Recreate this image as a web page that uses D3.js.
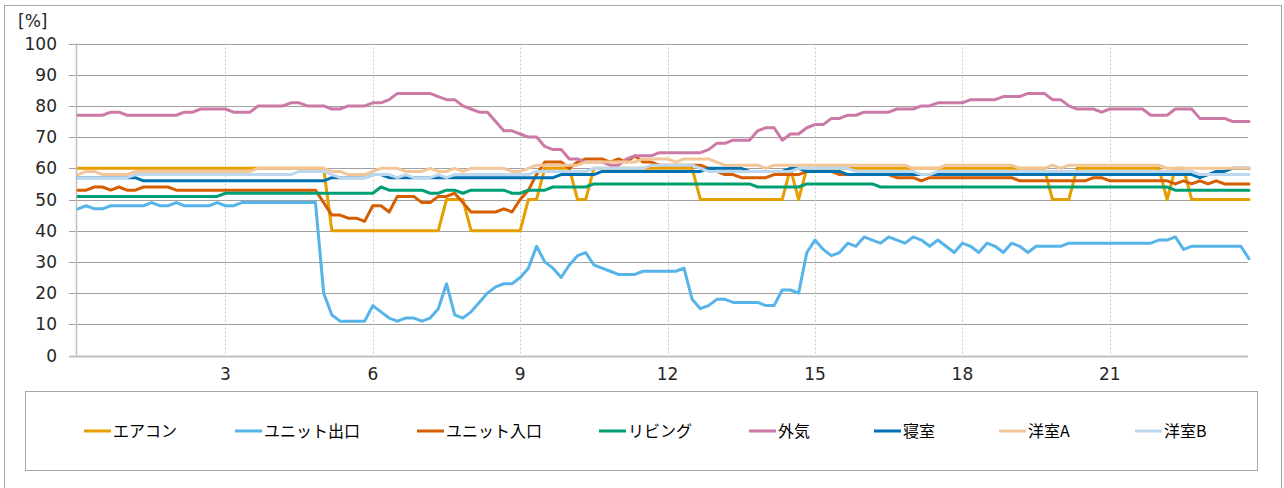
<!DOCTYPE html>
<html>
<head>
<meta charset="utf-8">
<script src="https://cdn.jsdelivr.net/npm/d3@7"></script>
<style>
body { margin: 0; background: #fff; }
</style>
</head>
<body>
<div id="chart"></div>
<script>
// 10分間隔 144点 (0:00 - 23:50)
var seriesNames = ["エアコン", "ユニット出口", "ユニット入口", "リビング", "外気", "寝室", "洋室A", "洋室B"];
var seriesColors = ["#E69F00", "#56B4E9", "#D55E00", "#009E73", "#CC79A7", "#0072B2", "#F3C699", "#BDD7EE"];

var aircon = [
  60,60,60,60,60,60,60,60,60,60,60,60,60,60,60,60,60,60,
  60,60,60,60,60,60,60,60,60,60,60,60,60,40,40,40,40,40,
  40,40,40,40,40,40,40,40,40,50,50,50,40,40,40,40,40,40,
  40,50,50,60,60,60,60,50,50,60,60,60,60,60,60,60,60,60,
  60,60,60,60,50,50,50,50,50,50,50,50,50,50,50,60,50,60,
  60,60,60,60,60,60,60,60,60,60,60,60,60,60,60,60,60,60,
  60,60,60,60,60,60,60,60,60,60,60,50,50,50,60,60,60,60,
  60,60,60,60,60,60,60,50,60,60,50,50,50,50,50,50,50,50
];
var unitOut = [
  47,48,47,47,48,48,48,48,48,49,48,48,49,48,48,48,48,49,
  48,48,49,49,49,49,49,49,49,49,49,49,20,13,11,11,11,11,
  16,14,12,11,12,12,11,12,15,23,13,12,14,17,20,22,23,23,
  25,28,35,30,28,25,29,32,33,29,28,27,26,26,26,27,27,27,
  27,27,28,18,15,16,18,18,17,17,17,17,16,16,21,21,20,33,
  37,34,32,33,36,35,38,37,36,38,37,36,38,37,35,37,35,33,
  36,35,33,36,35,33,36,35,33,35,35,35,35,36,36,36,36,36,
  36,36,36,36,36,36,37,37,38,34,35,35,35,35,35,35,35,31
];
var unitIn = [
  53,53,54,54,53,54,53,53,54,54,54,54,53,53,53,53,53,53,
  53,53,53,53,53,53,53,53,53,53,53,53,49,45,45,44,44,43,
  48,48,46,51,51,51,49,49,51,51,52,49,46,46,46,46,47,46,
  50,53,58,62,62,62,60,62,63,63,63,62,63,62,64,62,62,61,
  61,61,61,61,61,60,59,58,58,57,57,57,57,58,58,58,58,59,
  59,59,59,58,58,58,58,58,58,58,57,57,57,56,57,57,57,57,
  57,57,57,57,57,57,57,56,56,56,56,56,56,56,56,56,57,57,
  56,56,56,56,56,56,56,56,55,56,55,56,55,56,55,55,55,55
];
var living = [
  51,51,51,51,51,51,51,51,51,51,51,51,51,51,51,51,51,51,
  52,52,52,52,52,52,52,52,52,52,52,52,52,52,52,52,52,52,
  52,54,53,53,53,53,53,52,52,53,53,52,53,53,53,53,53,52,
  52,53,53,53,54,54,54,54,54,55,55,55,55,55,55,55,55,55,
  55,55,55,55,55,55,55,55,55,55,55,54,54,54,54,54,54,55,
  55,55,55,55,55,55,55,55,54,54,54,54,54,54,54,54,54,54,
  54,54,54,54,54,54,54,54,54,54,54,54,54,54,54,54,54,54,
  54,54,54,54,54,54,54,54,53,53,53,53,53,53,53,53,53,53
];
var outdoor = [
  77,77,77,77,78,78,77,77,77,77,77,77,77,78,78,79,79,79,
  79,78,78,78,80,80,80,80,81,81,80,80,80,79,79,80,80,80,
  81,81,82,84,84,84,84,84,83,82,82,80,79,78,78,75,72,72,
  71,70,70,67,66,66,63,63,62,62,62,61,61,63,64,64,64,65,
  65,65,65,65,65,66,68,68,69,69,69,72,73,73,69,71,71,73,
  74,74,76,76,77,77,78,78,78,78,79,79,79,80,80,81,81,81,
  81,82,82,82,82,83,83,83,84,84,84,82,82,80,79,79,79,78,
  79,79,79,79,79,77,77,77,79,79,79,76,76,76,76,75,75,75
];
var bedroom = [
  57,57,57,57,57,57,57,57,56,56,56,56,56,56,56,56,56,56,
  56,56,56,56,56,56,56,56,56,56,56,56,56,57,57,57,57,57,
  58,58,57,57,57,57,57,57,57,57,57,57,57,57,57,57,57,57,
  57,57,57,57,57,58,58,58,58,58,59,59,59,59,59,59,59,59,
  59,59,59,59,59,60,60,60,60,60,59,59,59,59,59,60,60,59,
  59,59,59,59,58,58,58,58,58,58,58,58,58,58,58,58,58,58,
  58,58,58,58,58,58,58,58,58,58,58,58,58,58,58,58,58,58,
  58,58,58,58,58,58,58,58,58,58,58,57,58,59,59,60,60,60
];
var roomA = [
  58,59,59,58,58,58,58,59,59,59,59,59,59,59,59,59,59,59,
  59,59,59,59,60,60,60,60,60,60,60,60,60,59,59,58,58,58,
  59,60,60,60,59,59,59,60,59,59,60,59,60,60,60,60,60,59,
  59,60,61,61,61,61,61,61,62,62,62,62,62,62,62,63,63,63,
  63,62,63,63,63,63,62,61,61,61,61,61,60,61,61,61,61,61,
  61,61,61,61,61,61,61,61,61,61,61,61,60,60,60,60,61,61,
  61,61,61,61,61,61,61,60,60,60,60,61,60,61,61,61,61,61,
  61,61,61,61,61,61,61,60,60,60,60,60,60,60,60,60,60,60
];
var roomB = [
  57,57,57,57,57,57,57,58,58,58,58,58,58,58,58,58,58,58,
  58,58,58,58,58,58,58,58,58,59,59,59,59,58,57,57,57,57,
  58,58,58,57,58,57,57,57,58,57,58,58,58,58,58,58,58,58,
  58,58,59,59,59,59,59,59,59,60,60,60,60,60,60,60,61,61,
  61,61,61,61,60,59,59,59,59,59,59,59,59,59,59,59,60,60,
  60,60,60,60,60,59,59,59,59,59,59,59,59,58,58,59,59,59,
  59,59,59,59,59,59,59,59,59,59,59,59,59,59,59,59,59,59,
  59,59,59,59,59,59,59,59,59,59,59,58,58,58,58,58,58,58
];

var yTicks = [0, 10, 20, 30, 40, 50, 60, 70, 80, 90, 100];
var xTickHours = [3, 6, 9, 12, 15, 18, 21];
var pointsPerHour = 6;

var allSeries = [aircon, unitOut, unitIn, living, outdoor, bedroom, roomA, roomB];

var width = 1284, height = 488;
var legendX = [84, 235, 417, 599, 749, 874, 999, 1135];

var svg = d3.select("#chart")
    .append("svg")
        .attr("width", width)
        .attr("height", height)
        .style("font-family", "'DejaVu Sans', sans-serif");

svg.append("rect")
    .attr("x", 0).attr("y", 0)
    .attr("width", width).attr("height", height)
    .attr("fill", "#fff");

// 外枠
svg.append("rect")
    .attr("x", 4.5).attr("y", 5.5)
    .attr("width", 1277).attr("height", 500)
    .attr("fill", "none")
    .attr("stroke", "#a6a6a6");

var x = d3.scaleLinear()
    .domain([0, aircon.length - 1])
    .range([78, 1249]);

var y = d3.scaleLinear()
    .domain([0, 100])
    .range([355.5, 43.5]);

// 横グリッド
svg.selectAll(".hgrid")
    .data(yTicks)
    .enter()
    .append("line")
    .attr("class", "hgrid")
    .attr("x1", 69)
    .attr("x2", 1248)
    .attr("y1", d => Math.round(y(d)) + 0.5)
    .attr("y2", d => Math.round(y(d)) + 0.5)
    .attr("stroke", d => d === 0 ? "#bfbfbf" : "#a0a0a0")
    .attr("stroke-width", d => d === 0 ? 2 : 1);

// 縦グリッド (点線)
svg.selectAll(".vgrid")
    .data(xTickHours)
    .enter()
    .append("line")
    .attr("class", "vgrid")
    .attr("x1", d => Math.round(x(d * pointsPerHour)) + 0.5)
    .attr("x2", d => Math.round(x(d * pointsPerHour)) + 0.5)
    .attr("y1", y(100))
    .attr("y2", y(0))
    .attr("stroke", "#c8c8c8")
    .attr("stroke-dasharray", "2,2");

// 縦軸
svg.append("line")
    .attr("x1", 76.5).attr("x2", 76.5)
    .attr("y1", y(100)).attr("y2", y(0))
    .attr("stroke", "#bfbfbf")
    .attr("stroke-width", 1.5);

svg.selectAll(".ylab")
    .data(yTicks)
    .enter()
    .append("text")
    .attr("class", "ylab")
    .attr("x", 57)
    .attr("y", d => y(d))
    .attr("dy", "0.36em")
    .attr("text-anchor", "end")
    .style("font-size", "17px")
    .attr("fill", "#262626")
    .text(d => d);

svg.append("text")
    .attr("x", 18)
    .attr("y", 27)
    .style("font-size", "17px")
    .attr("fill", "#262626")
    .text("[%]");

svg.selectAll(".xlab")
    .data(xTickHours)
    .enter()
    .append("text")
    .attr("class", "xlab")
    .attr("x", d => x(d * pointsPerHour))
    .attr("y", 380)
    .attr("text-anchor", "middle")
    .style("font-size", "17px")
    .attr("fill", "#262626")
    .text(d => d);

var line = d3.line()
    .x((d, i) => x(i))
    .y(d => y(d));

svg.selectAll(".series")
    .data(allSeries)
    .enter()
    .append("path")
    .attr("class", "series")
    .attr("d", d => line(d))
    .attr("fill", "none")
    .attr("stroke", (d, i) => seriesColors[i])
    .attr("stroke-width", 3)
    .attr("stroke-linejoin", "round")
    .attr("stroke-linecap", "round");

// 凡例
svg.append("rect")
    .attr("x", 25.5).attr("y", 391.5)
    .attr("width", 1232).attr("height", 79)
    .attr("fill", "none")
    .attr("stroke", "#a6a6a6");

var legend = svg.selectAll(".legend")
    .data(seriesNames)
    .enter()
    .append("g")
    .attr("class", "legend")
    .attr("transform", (d, i) => "translate(" + legendX[i] + ",431)");

legend.append("line")
    .attr("x1", 0).attr("x2", 27)
    .attr("y1", 0).attr("y2", 0)
    .attr("stroke", (d, i) => seriesColors[i])
    .attr("stroke-width", 3);

legend.append("text")
    .attr("x", 29)
    .attr("dy", "0.35em")
    .style("font-family", "'Noto Sans CJK JP', sans-serif")
    .style("font-size", "16px")
    .attr("fill", "#000")
    .text(d => d);
</script>
</body>
</html>
